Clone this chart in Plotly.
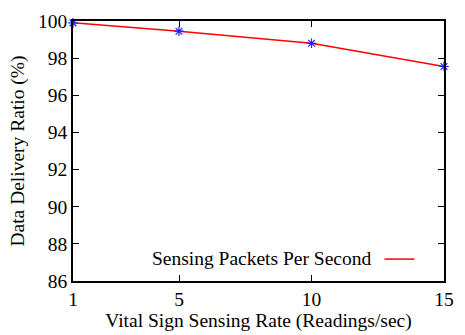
import plotly.graph_objects as go

# Vital sign sensing rate (readings/sec) vs. data delivery ratio (%)
rates = [1, 5, 10, 15]
delivery = [99.9, 99.45, 98.8, 97.55]
x_ticks = [1, 5, 10, 15]
y_ticks = [86, 88, 90, 92, 94, 96, 98, 100]

FONT = "Liberation Serif, Times New Roman, serif"
SIZE = 19.5

fig = go.Figure()

# line used for the key entry
fig.add_trace(go.Scatter(
    x=rates, y=delivery, mode="lines", name=" ",
    line=dict(color="#ff0000", width=1.5),
    showlegend=True,
))
# point markers on top
fig.add_trace(go.Scatter(
    x=rates, y=delivery, mode="markers", showlegend=False,
    marker=dict(symbol="asterisk-open", size=8, color="#2020ff",
                line=dict(color="#2020ff", width=1.2)),
    cliponaxis=False,
))

axis_common = dict(
    showgrid=False, zeroline=False, showline=True, linecolor="black",
    linewidth=1.5, mirror="allticks", ticks="inside", ticklen=6,
    tickwidth=1, tickcolor="black",
    tickfont=dict(family=FONT, size=SIZE, color="black"),
)

fig.update_layout(
    width=465, height=335,
    margin=dict(l=73, r=11, t=12, b=54),
    paper_bgcolor="white", plot_bgcolor="white",
    font=dict(family=FONT, color="black"),
    xaxis=dict(range=[1, 15], tickvals=x_ticks,
               title=dict(text="Vital Sign Sensing Rate (Readings/sec)",
                          font=dict(family=FONT, size=SIZE), standoff=0),
               **axis_common),
    yaxis=dict(range=[86, 100], tickvals=y_ticks,
               title=dict(text="Data Delivery Ratio (%)",
                          font=dict(family=FONT, size=SIZE), standoff=8),
               **axis_common),
    legend=dict(
        x=0.962, y=0.008, xanchor="right", yanchor="bottom",
        bgcolor="rgba(0,0,0,0)", borderwidth=0,
        title=dict(text="Sensing Packets Per Second", side="left",
                   font=dict(family=FONT, size=SIZE)),
        font=dict(family=FONT, size=SIZE),
    ),
)

fig.write_html("out.html")
